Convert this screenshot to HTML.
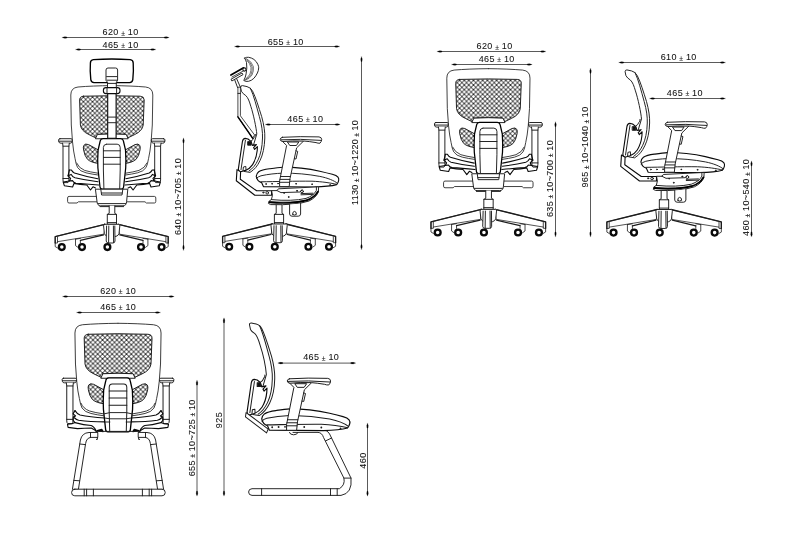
<!DOCTYPE html><html><head><meta charset="utf-8"><title>Chair dimensions</title><style>
html,body{margin:0;padding:0;background:#fff}
svg{display:block;will-change:transform}
path,rect,circle,line{fill:none;stroke:#1c1c1c;stroke-width:.95;stroke-linejoin:round;stroke-linecap:round}
.w{fill:#fff}
.m{fill:url(#mesh)}
.hv{stroke-width:1.35;stroke:#000}
.t{stroke-width:.85;stroke:#222}
.b{stroke-width:1.25;stroke:#000}
.b2{stroke-width:1.1;stroke:#0a0a0a}
.c{fill:#fff;stroke:#0a0a0a;stroke-width:2.3}
.d{stroke:#5a5a5a;stroke-width:1;stroke-linecap:butt}
.a{fill:#000;stroke:#000;stroke-width:.3}
text{font-family:"Liberation Sans",Arial,sans-serif;font-size:9px;letter-spacing:.42px;word-spacing:-.5px;fill:#111;stroke:#111;stroke-width:.06px;text-anchor:middle}
</style></head><body>
<svg width="810" height="548" viewBox="0 0 810 548">
<defs><pattern id="mesh" width="4.56" height="4.56" patternUnits="userSpaceOnUse" patternTransform="translate(3.6,1.4)"><rect width="4.56" height="4.56" style="fill:#fff;stroke:none"/><path d="M2.28 0 L0 2.28 L2.28 4.56 L4.56 2.28 Z" style="stroke:#111;stroke-width:.86;stroke-linecap:butt;stroke-linejoin:miter;fill:none"/><path d="M1.54 0.00 L2.28 -0.74 L3.02 0.00 L2.28 0.74 Z M-0.74 2.28 L0.00 1.54 L0.74 2.28 L0.00 3.02 Z M3.82 2.28 L4.56 1.54 L5.30 2.28 L4.56 3.02 Z M1.54 4.56 L2.28 3.82 L3.02 4.56 L2.28 5.30 Z " style="fill:#000;stroke:none"/></pattern>
</defs>
<rect x="0" y="0" width="810" height="548" style="fill:#fff;stroke:none"/>
<g><g><path class="m" d="M83.4 96.2 Q111.8 95.2 140.2 96.2 Q144.2 96.4 144.2 100 L143.2 125 Q142.4 131 134.6 134.6 L127.6 138 L125.6 134.3 Q111.8 133.4 98 134.3 L96 138 L89 134.6 Q81.2 131 80.4 125 L79.6 100 Q79.6 96.4 83.4 96.2 Z"/><g>
<path class="t" d="M111.8 85.6 Q92 85.8 78 87 Q70.8 87.8 70.8 95 L71.3 125 L72.5 141.7 Q73.5 152 75 158.3 Q76 164.6 77.6 167.6 Q80 171.4 86 172.8 Q92 174.2 98 175"/>
<path class="t" d="M76.6 163 Q78.6 168 84.6 170.4 Q90 172 98 173.2"/>
<path class="m" d="M98.4 150 L88.6 144.6 Q85.2 143.2 83.8 145.4 Q83 147 83.6 150 Q84.6 156 87.4 159.2 Q91 162.6 98.4 163.4 Z"/>
</g><g transform="translate(223.6,0) scale(-1,1)">
<path class="t" d="M111.8 85.6 Q92 85.8 78 87 Q70.8 87.8 70.8 95 L71.3 125 L72.5 141.7 Q73.5 152 75 158.3 Q76 164.6 77.6 167.6 Q80 171.4 86 172.8 Q92 174.2 98 175"/>
<path class="t" d="M76.6 163 Q78.6 168 84.6 170.4 Q90 172 98 173.2"/>
<path class="m" d="M98.4 150 L88.6 144.6 Q85.2 143.2 83.8 145.4 Q83 147 83.6 150 Q84.6 156 87.4 159.2 Q91 162.6 98.4 163.4 Z"/>
</g>
<!-- bracket above lumbar -->
<path class="w" d="M95.6 138.4 L97.4 134.4 Q111.8 133.4 126.2 134.4 L128 138.4 Z"/>
<g><!-- arm pad -->
<path class="w" d="M60 138.7 L71 138.7 Q72.3 138.7 72.3 140 L72 142 Q71.6 143.2 70 143.2 L61 143.2 Q59.2 143.2 58.9 142 L58.6 140 Q58.6 138.7 60 138.7 Z"/>
<path d="M59 141.2 L72 141.2"/>
<path class="w" d="M62.6 143.2 L63 146.2 L63 180 Q63 182 64 182.6 L68 182.6 Q68.9 182 68.9 180 L68.9 146.2 L69.3 143.2"/>
<path d="M63 146.2 L68.9 146.2 M63 178.5 L68.9 178.5"/>
</g><g transform="translate(223.6,0) scale(-1,1)"><!-- arm pad -->
<path class="w" d="M60 138.7 L71 138.7 Q72.3 138.7 72.3 140 L72 142 Q71.6 143.2 70 143.2 L61 143.2 Q59.2 143.2 58.9 142 L58.6 140 Q58.6 138.7 60 138.7 Z"/>
<path d="M59 141.2 L72 141.2"/>
<path class="w" d="M62.6 143.2 L63 146.2 L63 180 Q63 182 64 182.6 L68 182.6 Q68.9 182 68.9 180 L68.9 146.2 L69.3 143.2"/>
<path d="M63 146.2 L68.9 146.2 M63 178.5 L68.9 178.5"/>
</g><g><!-- seat -->
<path class="b2" d="M69.4 170 L71.4 170 Q72.4 172 74.4 173 Q85 176.4 97.8 178.7"/>
<path class="b2" d="M69.4 170 L68 175.8 L71.2 174.4 Q72.6 177 75 177.8 Q85 180.2 98 181.8"/>
<path class="b2" d="M68 175.8 L70.6 178.4 L69.4 181 L72.4 180.6 Q73.4 182.8 76 183.2 Q85 183.8 98.6 185"/>
<path class="b2" d="M69.4 181 L63.2 182 L64.4 185.8 L72.6 187 L74 183.4 Q80 184.6 86.8 185 L90.5 190 L93 186.8 L95.5 188"/>
</g><g transform="translate(223.6,0) scale(-1,1)"><!-- seat -->
<path class="b2" d="M69.4 170 L71.4 170 Q72.4 172 74.4 173 Q85 176.4 97.8 178.7"/>
<path class="b2" d="M69.4 170 L68 175.8 L71.2 174.4 Q72.6 177 75 177.8 Q85 180.2 98 181.8"/>
<path class="b2" d="M68 175.8 L70.6 178.4 L69.4 181 L72.4 180.6 Q73.4 182.8 76 183.2 Q85 183.8 98.6 185"/>
<path class="b2" d="M69.4 181 L63.2 182 L64.4 185.8 L72.6 187 L74 183.4 Q80 184.6 86.8 185 L90.5 190 L93 186.8 L95.5 188"/>
</g><!-- lumbar -->
<path class="w b" d="M103 138.6 L120.6 138.6 Q123 138.8 123.4 141 L125.5 150 L125.9 160 L125.7 168 L123.6 187 Q123.4 189 121.4 189 L102.2 189 Q100.2 189 100 187 L97.9 168 L97.7 160 L98.1 150 L100.2 141 Q100.6 138.8 103 138.6 Z"/>
<path d="M106.4 144.2 L117.2 144.2 Q120.2 144.4 120.2 147.4 L120.2 170 L119.7 188.6 M103.9 188.6 L103.4 170 L103.4 147.4 Q103.4 144.4 106.4 144.2"/>
<path d="M103.4 150.8 L120.2 150.8 M103.4 157.4 L120.2 157.4 M103.4 164.2 L120.2 164.2 "/>
</g>
<path class="w b2" d="M107.7 93 L107.7 138.2 L116.1 138.2 L116.1 93 Z"/>
<path d="M107.7 117.1 L116.1 117.1 M107.7 122.7 L116.1 122.7"/>
<path class="w hv" d="M93.4 59.6 Q111.8 58.4 130.2 59.6 Q133.2 60 133.2 63 Q133.8 71 132.8 79.6 Q132.4 82.4 129.6 82.6 L94 82.6 Q91.2 82.4 90.8 79.6 Q89.8 71 90.4 63 Q90.4 60 93.4 59.6 Z"/>
<path class="w" d="M106 80 L106 70 Q106 68 108 68 L115.6 68 Q117.6 68 117.6 70 L117.6 80 L116.3 82.6 L116.3 88 L107.5 88 L107.5 82.6 Z"/>
<path d="M106.6 76.6 L117 76.6 M107 80.2 L116.8 80.2 M107.5 83.4 L116.3 83.4"/>
<rect class="w b2" x="103.4" y="87.6" width="16.6" height="6" rx="2.6"/>
<path d="M107 87.6 L107 93.6 M116.6 87.6 L116.6 93.6"/>
<g><path class="w t" d="M97.6 196.4 L69 196.4 Q67.6 196.4 67.6 198 L67.6 201.4 Q67.6 203 69 203 L77 203 L78.4 201.8 L97.6 201.8 Z"/><path class="w t" d="M126 196.4 L154.4 196.4 Q155.8 196.4 155.8 198 L155.8 201.4 Q155.8 203 154.4 203 L146.4 203 L145 201.8 L126 201.8 Z"/><path class="w" d="M95.8 189.2 L127.8 189.2 L126.6 201.6 Q126.4 205.8 123 205.8 L100.6 205.8 Q97.2 205.8 97 201.6 Z"/><path d="M100.8 189.2 L101.6 195 L122 195 L122.8 189.2 M101.4 193 L122.2 193 M98 203.6 L125.6 203.6"/><path d="M100 206.6 L123.6 206.6"/><path class="w" d="M109.2 205.8 L109.2 213.4 L107.3 214.4 L107.3 224.3 L116.5 224.3 L116.5 214.4 L114.8 213.4 L114.8 205.8"/><path d="M107.3 214.4 L116.5 214.4 M107.3 222.6 L116.5 222.6"/><g>
<path class="w" d="M104.9 224.3 L55.2 236.6 L55.2 243 L57.5 243 L57.5 241.7 L103.6 234.2 Z" style="stroke-width:.75"/>
<path d="M104.9 224.3 L55.2 236.6 L55.2 243" style="stroke-width:1.3"/>
<path d="M57.5 237 L57.5 241.7 M55.2 243 L55.2 246.6 L57.6 248" style="stroke-width:.8"/>
<path d="M75.5 239.2 L75.5 245.6 L78 247.4 M80.4 240.4 L80.4 243 M75.5 239.2 L80.4 238.4" style="stroke-width:.8"/>
<path d="M80.4 240.4 L103.6 234.8" style="stroke-width:1.25"/>
</g><g transform="translate(223.4,0) scale(-1,1)">
<path class="w" d="M104.9 224.3 L55.2 236.6 L55.2 243 L57.5 243 L57.5 241.7 L103.6 234.2 Z" style="stroke-width:.75"/>
<path d="M104.9 224.3 L55.2 236.6 L55.2 243" style="stroke-width:1.3"/>
<path d="M57.5 237 L57.5 241.7 M55.2 243 L55.2 246.6 L57.6 248" style="stroke-width:.8"/>
<path d="M75.5 239.2 L75.5 245.6 L78 247.4 M80.4 240.4 L80.4 243 M75.5 239.2 L80.4 238.4" style="stroke-width:.8"/>
<path d="M80.4 240.4 L103.6 234.8" style="stroke-width:1.25"/>
</g><path class="w" d="M104.4 224.3 L119 224.3 Q120 224.6 119.8 226 L119 233.6 Q118.4 235.6 116 236.4 L107.4 236.4 Q105 235.6 104.4 233.6 L103.6 226 Q103.4 224.6 104.4 224.3 Z"/><path class="w" d="M106.6 226 L106.2 241 Q106.4 243 108.4 243 L113 243 Q114.8 243 115 241 L114.8 226"/><path d="M108.8 226 L108.6 242.6 M113.4 226 L113.6 242.6"/><circle class="c" cx="61.8" cy="247.1" r="2.9"/><circle class="c" cx="82" cy="247.1" r="2.9"/><circle class="c" cx="107.4" cy="247.1" r="2.9"/><circle class="c" cx="141" cy="247.1" r="2.9"/><circle class="c" cx="161.6" cy="247.1" r="2.9"/></g></g>
<line class="d" x1="63.5" y1="37.5" x2="167.7" y2="37.5"/><path class="a" d="M62.5 37.5 Q64.1 36.25 66.9 37.0 L66.9 38.0 Q64.1 38.75 62.5 37.5 Z"/><path class="a" d="M168.7 37.5 Q167.1 36.25 164.29999999999998 37.0 L164.29999999999998 38.0 Q167.1 38.75 168.7 37.5 Z"/><text x="120.60000000000001" y="35.099999999999994"><tspan>620 </tspan><tspan font-size="6.8" dy=".4">±</tspan><tspan dy="-.4"> 10</tspan></text>
<line class="d" x1="77" y1="49.5" x2="154.3" y2="49.5"/><path class="a" d="M76 49.5 Q77.6 48.25 80.4 49.0 L80.4 50.0 Q77.6 50.75 76 49.5 Z"/><path class="a" d="M155.3 49.5 Q153.70000000000002 48.25 150.9 49.0 L150.9 50.0 Q153.70000000000002 50.75 155.3 49.5 Z"/><text x="120.60000000000001" y="47.5"><tspan>465 </tspan><tspan font-size="6.8" dy=".4">±</tspan><tspan dy="-.4"> 10</tspan></text>
<line class="d" x1="183.5" y1="139.4" x2="183.5" y2="249"/><path class="a" d="M183.5 138.4 Q182.25 140.0 183.0 142.8 L184.0 142.8 Q184.75 140.0 183.5 138.4 Z"/><path class="a" d="M183.5 250 Q182.25 248.4 183.0 245.6 L184.0 245.6 Q184.75 248.4 183.5 250 Z"/><text transform="translate(181,196.5) rotate(-90)" style="letter-spacing:0.37px"><tspan>640 </tspan><tspan font-size="6.8" dy=".4">±</tspan><tspan dy="-.4"> 10~705 </tspan><tspan font-size="6.8" dy=".4">±</tspan><tspan dy="-.4"> 10</tspan></text>
<g><g><path class="w" d="M276.2 203.8 L276.2 213.4 L274.4 214.4 L274.4 224.3 L283.6 224.3 L283.6 214.4 L282 213.4 L282 204.8"/><path d="M274.4 214.4 L283.6 214.4 M274.4 222.6 L283.6 222.6"/><g transform="translate(167.4,-0.3)"><g>
<path class="w" d="M104.9 224.3 L55.2 236.6 L55.2 243 L57.5 243 L57.5 241.7 L103.6 234.2 Z" style="stroke-width:.75"/>
<path d="M104.9 224.3 L55.2 236.6 L55.2 243" style="stroke-width:1.3"/>
<path d="M57.5 237 L57.5 241.7 M55.2 243 L55.2 246.6 L57.6 248" style="stroke-width:.8"/>
<path d="M75.5 239.2 L75.5 245.6 L78 247.4 M80.4 240.4 L80.4 243 M75.5 239.2 L80.4 238.4" style="stroke-width:.8"/>
<path d="M80.4 240.4 L103.6 234.8" style="stroke-width:1.25"/>
</g><g transform="translate(223.4,0) scale(-1,1)">
<path class="w" d="M104.9 224.3 L55.2 236.6 L55.2 243 L57.5 243 L57.5 241.7 L103.6 234.2 Z" style="stroke-width:.75"/>
<path d="M104.9 224.3 L55.2 236.6 L55.2 243" style="stroke-width:1.3"/>
<path d="M57.5 237 L57.5 241.7 M55.2 243 L55.2 246.6 L57.6 248" style="stroke-width:.8"/>
<path d="M75.5 239.2 L75.5 245.6 L78 247.4 M80.4 240.4 L80.4 243 M75.5 239.2 L80.4 238.4" style="stroke-width:.8"/>
<path d="M80.4 240.4 L103.6 234.8" style="stroke-width:1.25"/>
</g><path class="w" d="M104.4 224.3 L119 224.3 Q120 224.6 119.8 226 L119 233.6 Q118.4 235.6 116 236.4 L107.4 236.4 Q105 235.6 104.4 233.6 L103.6 226 Q103.4 224.6 104.4 224.3 Z"/><path class="w" d="M106.6 226 L106.2 241 Q106.4 243 108.4 243 L113 243 Q114.8 243 115 241 L114.8 226"/><path d="M108.8 226 L108.6 242.6 M113.4 226 L113.6 242.6"/><circle class="c" cx="61.8" cy="247.1" r="2.9"/><circle class="c" cx="82" cy="247.1" r="2.9"/><circle class="c" cx="107.4" cy="247.1" r="2.9"/><circle class="c" cx="141" cy="247.1" r="2.9"/><circle class="c" cx="161.6" cy="247.1" r="2.9"/></g></g><g>
<!-- back rest -->
<path class="w" d="M240.6 87 Q240.6 85.5 242.4 85.6 L247 86.6 Q250.6 87.4 252.6 91.2 C256 98 258.6 107 261.7 116.7 C264 125 265 132 264.8 138 C264.6 147 262.8 155 260 160.6 C257.4 166 254.6 169.6 250 172.4 L244 171.4 L249 160 L256.8 134 C256.3 128 253.4 114 250.8 106.3 C249.4 101.6 248.2 97.8 245.8 95.6 Q242.8 93.8 241.6 91.6 Z"/>
<path d="M250.4 88.2 C254 96 256.4 106 259.4 116.7 C261.8 125 262.7 132 262.5 138 C262.3 147 260.6 154.6 258 160 C255.6 165 253 168.4 249 171"/>
<!-- lumbar -->
<path class="w b2" d="M245.2 138.4 Q243 138.4 242.4 141.6 L238.4 168.6 Q238.2 171.4 240.4 171.8 L245.4 170.4 Q250 168.6 252.6 164.6 Q256.4 158.6 257.2 150.6 L257.4 146.6 L254.6 149.4 L253.6 147.6 L256.4 144.6 L252.4 145.4 L251 141.4 L248 139 Z"/>
<path d="M245.4 140.4 L241 169.6 M243 170.8 L243.4 167 L245.8 166.4 L246 169.8"/>
<rect x="248" y="141.6" width="3.2" height="3.6" style="fill:#111"/>
<path d="M251.2 141 Q253.6 139.6 254.2 137.4 Q255.6 136.6 255.4 134.4"/>
<!-- L bracket -->
<path class="w b2" d="M237 169.6 L236.3 180.8 L254.8 195.2 L271.6 195.2 L271.6 190.8 L256.6 190.8 L240.3 179.2 L240.6 171.8 Z"/>
<circle cx="263.3" cy="192.6" r=".6"/><circle cx="267.2" cy="192.8" r="1.3"/>

<path class="w b2" d="M256.2 176.4 Q256.6 173.4 258.7 171.8 C262 169.6 266 169.2 270 168.7 C276 167.8 279 167.4 282.4 167.2 C290 167 296 167.6 301.1 168.1 C308 168.8 314 169.8 319.8 171.2 C325 172.4 329 173.4 332.3 174.3 Q336.6 175.4 338 177.2 Q339.2 178.8 338.6 180.8 Q338 183 336.6 184.6 C330 186.4 322 186.8 314 187 L263.4 186.6 L261.6 182.6 Q257.4 181.6 256.2 176.4 Z"/>
<path d="M256.4 178.4 Q258 176.6 261 175.8 C268 174.2 276 173.4 282.4 173.2 C296 173 308 174.2 319.8 176.4 C328 178 334 180.6 337.4 183.2"/>
<path d="M261 181.8 C275 181.6 296 181 312 181.2 C322 181.6 331 183 336.8 184.4"/>
<circle cx="266" cy="184" r=".4"/><circle cx="272" cy="183.8" r=".4"/><circle cx="278" cy="183.6" r=".4"/><circle cx="296" cy="183.8" r=".4"/><circle cx="312" cy="184.2" r=".4"/><circle cx="330" cy="185" r=".4"/>

<path class="w" d="M282.5 141.4 L286.6 145.5 L279.6 181 L279.6 186.6 L289.2 186.6 L290 178.6 L296.6 147.9 L303.6 141 Z"/>
<path d="M280.6 176.5 L290.4 176.5 M280 179.4 L289.9 179.4 M279.6 182.3 L289.6 182.3 M287.8 142 L298.8 142 L296.4 145.5 L290.2 145.5 Z"/>
<path d="M296 150.8 L297.7 151.4 L296 159 L294.4 158.7"/>
<path class="w" d="M282.4 137.3 Q300 136.2 319 136.9 Q321.6 137.2 321.7 139.4 Q321.6 141.6 320 143.2 Q318 143.4 316 142.6 Q309 141.4 303.6 141 Q292 140.6 283 141.5 Q280.3 141.4 280.2 139.4 Q280.3 137.6 282.4 137.3 Z"/>
<path d="M281 139.8 Q300 138.6 321.2 140.4"/>
</g><path class="w" d="M237.9 87.6 L237.9 116.8 L252.6 138.2 L254.6 135 L240.4 115.8 L240.4 87.6 Z" style="stroke-width:.8"/><path d="M237.9 116.8 L252.6 138.2" style="stroke-width:1.5;stroke:#000"/><path d="M237.6 87.6 L234.6 79.6 M240.6 87.6 L236.6 78.6 M237.9 93.4 L240.4 93.4"/><path d="M230.9 75 L243.6 67.8" style="stroke-width:1.7;stroke:#000"/><path d="M232 77 L243.6 70.8" style="stroke-width:.8"/><path class="w" d="M231.4 79 L242 73 L243 74.6 L232.2 80.8 Z"/><circle class="w" cx="244.4" cy="69.5" r="1.6" style="stroke-width:1.1"/><path class="w" d="M244.7 58.1 Q246.6 56.9 248.6 57.3 Q251.6 57.8 253.9 59.4 Q256.6 61.4 257.8 64.3 Q258.8 66.6 258.7 67.8 Q258.6 70.6 257.4 73 Q256 76 253.9 78.3 Q251.6 80.6 248.6 81.3 Q245.6 81.8 243.8 80.5 Q245.6 77 246.1 73.9 Q247.3 68 246.5 62.5 Q245.8 60 244.7 58.1 Z"/><path d="M246.4 58.6 Q252 61.6 253.4 66.6 Q254 70.6 252 75 Q249.6 79 245.2 80.2 M246.8 59.6 Q251 62.4 252.2 67 Q252.6 70.6 251 74.6 Q249 78 245.6 79.4 M247.2 60.8 Q250 63.4 251 67.4 Q251.2 70.6 250 74 Q248.4 77 246 78.6" style="stroke-width:.6"/><g><path class="w" d="M272 190.6 L277 190.6 L278.4 188.8 L315 187 L318.6 186.8 L318.4 192 Q316 197.6 309 201 Q296 205.4 270.6 204.6 L268.4 203.4 L269.2 201 L271.4 199.6 L272.4 195.6 Z"/><path d="M271.4 199.6 Q292 201.6 306 198.4 Q314 195.6 316.4 190.4 L316.4 187 M269.2 201.6 Q292 203.6 308 199.8 M277 190.6 L281 192.6 L300 192 L302 190 M301 193.6 L313 193.2 M301 194.8 L313 194.4"/><path d="M269.6 202.4 Q292 204.2 306.4 200.4 Q314.6 197.6 317.8 191.6" style="stroke-width:1.7;stroke:#000"/><circle cx="302" cy="191.4" r="1.4"/><circle cx="297" cy="190.8" r=".5" style="fill:#111"/><circle cx="288.6" cy="197" r=".4" style="fill:#111"/><circle cx="284" cy="193" r=".35"/><path class="w" d="M289.6 204.6 L289.6 214 Q289.8 216.2 292 216.2 L298.2 216.2 Q300.4 216.2 300.6 214 L300.6 203.4"/><path d="M292.6 214.4 Q292.4 211.6 294.4 211.4 Q296.6 211.6 296.4 214.4 Q294.4 215.8 292.6 214.4"/></g></g>
<line class="d" x1="236" y1="46.5" x2="338.2" y2="46.5"/><path class="a" d="M235 46.5 Q236.6 45.25 239.4 46.0 L239.4 47.0 Q236.6 47.75 235 46.5 Z"/><path class="a" d="M339.2 46.5 Q337.59999999999997 45.25 334.8 46.0 L334.8 47.0 Q337.59999999999997 47.75 339.2 46.5 Z"/><text x="285.7" y="44.5"><tspan>655 </tspan><tspan font-size="6.8" dy=".4">±</tspan><tspan dy="-.4"> 10</tspan></text>
<line class="d" x1="266.8" y1="124.5" x2="338.7" y2="124.5"/><path class="a" d="M265.8 124.5 Q267.40000000000003 123.25 270.2 124.0 L270.2 125.0 Q267.40000000000003 125.75 265.8 124.5 Z"/><path class="a" d="M339.7 124.5 Q338.09999999999997 123.25 335.3 124.0 L335.3 125.0 Q338.09999999999997 125.75 339.7 124.5 Z"/><text x="305.4" y="121.7"><tspan>465 </tspan><tspan font-size="6.8" dy=".4">±</tspan><tspan dy="-.4"> 10</tspan></text>
<line class="d" x1="361.5" y1="58" x2="361.5" y2="248.2"/><path class="a" d="M361.5 57 Q360.25 58.6 361.0 61.4 L362.0 61.4 Q362.75 58.6 361.5 57 Z"/><path class="a" d="M361.5 249.2 Q360.25 247.6 361.0 244.79999999999998 L362.0 244.79999999999998 Q362.75 247.6 361.5 249.2 Z"/><text transform="translate(358.4,162.5) rotate(-90)" style="letter-spacing:0.25px"><tspan>1130 </tspan><tspan font-size="6.8" dy=".4">±</tspan><tspan dy="-.4"> 10~1220 </tspan><tspan font-size="6.8" dy=".4">±</tspan><tspan dy="-.4"> 10</tspan></text>
<g transform="translate(374.98,-18.18) scale(1.0145)"><g><path class="m" d="M83.4 96.2 Q111.8 95.2 140.2 96.2 Q144.2 96.4 144.2 100 L143.2 125 Q142.4 131 134.6 134.6 L127.6 138 L125.6 134.3 Q111.8 133.4 98 134.3 L96 138 L89 134.6 Q81.2 131 80.4 125 L79.6 100 Q79.6 96.4 83.4 96.2 Z"/><g>
<path class="t" d="M111.8 85.6 Q92 85.8 78 87 Q70.8 87.8 70.8 95 L71.3 125 L72.5 141.7 Q73.5 152 75 158.3 Q76 164.6 77.6 167.6 Q80 171.4 86 172.8 Q92 174.2 98 175"/>
<path class="t" d="M76.6 163 Q78.6 168 84.6 170.4 Q90 172 98 173.2"/>
<path class="m" d="M98.4 150 L88.6 144.6 Q85.2 143.2 83.8 145.4 Q83 147 83.6 150 Q84.6 156 87.4 159.2 Q91 162.6 98.4 163.4 Z"/>
</g><g transform="translate(223.6,0) scale(-1,1)">
<path class="t" d="M111.8 85.6 Q92 85.8 78 87 Q70.8 87.8 70.8 95 L71.3 125 L72.5 141.7 Q73.5 152 75 158.3 Q76 164.6 77.6 167.6 Q80 171.4 86 172.8 Q92 174.2 98 175"/>
<path class="t" d="M76.6 163 Q78.6 168 84.6 170.4 Q90 172 98 173.2"/>
<path class="m" d="M98.4 150 L88.6 144.6 Q85.2 143.2 83.8 145.4 Q83 147 83.6 150 Q84.6 156 87.4 159.2 Q91 162.6 98.4 163.4 Z"/>
</g>
<!-- bracket above lumbar -->
<path class="w" d="M95.6 138.4 L97.4 134.4 Q111.8 133.4 126.2 134.4 L128 138.4 Z"/>
<g><!-- arm pad -->
<path class="w" d="M60 138.7 L71 138.7 Q72.3 138.7 72.3 140 L72 142 Q71.6 143.2 70 143.2 L61 143.2 Q59.2 143.2 58.9 142 L58.6 140 Q58.6 138.7 60 138.7 Z"/>
<path d="M59 141.2 L72 141.2"/>
<path class="w" d="M62.6 143.2 L63 146.2 L63 180 Q63 182 64 182.6 L68 182.6 Q68.9 182 68.9 180 L68.9 146.2 L69.3 143.2"/>
<path d="M63 146.2 L68.9 146.2 M63 178.5 L68.9 178.5"/>
</g><g transform="translate(223.6,0) scale(-1,1)"><!-- arm pad -->
<path class="w" d="M60 138.7 L71 138.7 Q72.3 138.7 72.3 140 L72 142 Q71.6 143.2 70 143.2 L61 143.2 Q59.2 143.2 58.9 142 L58.6 140 Q58.6 138.7 60 138.7 Z"/>
<path d="M59 141.2 L72 141.2"/>
<path class="w" d="M62.6 143.2 L63 146.2 L63 180 Q63 182 64 182.6 L68 182.6 Q68.9 182 68.9 180 L68.9 146.2 L69.3 143.2"/>
<path d="M63 146.2 L68.9 146.2 M63 178.5 L68.9 178.5"/>
</g><g><!-- seat -->
<path class="b2" d="M69.4 170 L71.4 170 Q72.4 172 74.4 173 Q85 176.4 97.8 178.7"/>
<path class="b2" d="M69.4 170 L68 175.8 L71.2 174.4 Q72.6 177 75 177.8 Q85 180.2 98 181.8"/>
<path class="b2" d="M68 175.8 L70.6 178.4 L69.4 181 L72.4 180.6 Q73.4 182.8 76 183.2 Q85 183.8 98.6 185"/>
<path class="b2" d="M69.4 181 L63.2 182 L64.4 185.8 L72.6 187 L74 183.4 Q80 184.6 86.8 185 L90.5 190 L93 186.8 L95.5 188"/>
</g><g transform="translate(223.6,0) scale(-1,1)"><!-- seat -->
<path class="b2" d="M69.4 170 L71.4 170 Q72.4 172 74.4 173 Q85 176.4 97.8 178.7"/>
<path class="b2" d="M69.4 170 L68 175.8 L71.2 174.4 Q72.6 177 75 177.8 Q85 180.2 98 181.8"/>
<path class="b2" d="M68 175.8 L70.6 178.4 L69.4 181 L72.4 180.6 Q73.4 182.8 76 183.2 Q85 183.8 98.6 185"/>
<path class="b2" d="M69.4 181 L63.2 182 L64.4 185.8 L72.6 187 L74 183.4 Q80 184.6 86.8 185 L90.5 190 L93 186.8 L95.5 188"/>
</g><!-- lumbar -->
<path class="w b" d="M103 138.6 L120.6 138.6 Q123 138.8 123.4 141 L125.5 150 L125.9 160 L125.7 168 L123.6 187 Q123.4 189 121.4 189 L102.2 189 Q100.2 189 100 187 L97.9 168 L97.7 160 L98.1 150 L100.2 141 Q100.6 138.8 103 138.6 Z"/>
<path d="M106.4 144.2 L117.2 144.2 Q120.2 144.4 120.2 147.4 L120.2 170 L119.7 188.6 M103.9 188.6 L103.4 170 L103.4 147.4 Q103.4 144.4 106.4 144.2"/>
<path d="M103.4 150.8 L120.2 150.8 M103.4 157.4 L120.2 157.4 M103.4 164.2 L120.2 164.2 "/>
</g><g><path class="w t" d="M97.6 196.4 L69 196.4 Q67.6 196.4 67.6 198 L67.6 201.4 Q67.6 203 69 203 L77 203 L78.4 201.8 L97.6 201.8 Z"/><path class="w t" d="M126 196.4 L154.4 196.4 Q155.8 196.4 155.8 198 L155.8 201.4 Q155.8 203 154.4 203 L146.4 203 L145 201.8 L126 201.8 Z"/><path class="w" d="M95.8 189.2 L127.8 189.2 L126.6 201.6 Q126.4 205.8 123 205.8 L100.6 205.8 Q97.2 205.8 97 201.6 Z"/><path d="M100.8 189.2 L101.6 195 L122 195 L122.8 189.2 M101.4 193 L122.2 193 M98 203.6 L125.6 203.6"/><path d="M100 206.6 L123.6 206.6"/><path class="w" d="M109.2 205.8 L109.2 213.4 L107.3 214.4 L107.3 224.3 L116.5 224.3 L116.5 214.4 L114.8 213.4 L114.8 205.8"/><path d="M107.3 214.4 L116.5 214.4 M107.3 222.6 L116.5 222.6"/><g>
<path class="w" d="M104.9 224.3 L55.2 236.6 L55.2 243 L57.5 243 L57.5 241.7 L103.6 234.2 Z" style="stroke-width:.75"/>
<path d="M104.9 224.3 L55.2 236.6 L55.2 243" style="stroke-width:1.3"/>
<path d="M57.5 237 L57.5 241.7 M55.2 243 L55.2 246.6 L57.6 248" style="stroke-width:.8"/>
<path d="M75.5 239.2 L75.5 245.6 L78 247.4 M80.4 240.4 L80.4 243 M75.5 239.2 L80.4 238.4" style="stroke-width:.8"/>
<path d="M80.4 240.4 L103.6 234.8" style="stroke-width:1.25"/>
</g><g transform="translate(223.4,0) scale(-1,1)">
<path class="w" d="M104.9 224.3 L55.2 236.6 L55.2 243 L57.5 243 L57.5 241.7 L103.6 234.2 Z" style="stroke-width:.75"/>
<path d="M104.9 224.3 L55.2 236.6 L55.2 243" style="stroke-width:1.3"/>
<path d="M57.5 237 L57.5 241.7 M55.2 243 L55.2 246.6 L57.6 248" style="stroke-width:.8"/>
<path d="M75.5 239.2 L75.5 245.6 L78 247.4 M80.4 240.4 L80.4 243 M75.5 239.2 L80.4 238.4" style="stroke-width:.8"/>
<path d="M80.4 240.4 L103.6 234.8" style="stroke-width:1.25"/>
</g><path class="w" d="M104.4 224.3 L119 224.3 Q120 224.6 119.8 226 L119 233.6 Q118.4 235.6 116 236.4 L107.4 236.4 Q105 235.6 104.4 233.6 L103.6 226 Q103.4 224.6 104.4 224.3 Z"/><path class="w" d="M106.6 226 L106.2 241 Q106.4 243 108.4 243 L113 243 Q114.8 243 115 241 L114.8 226"/><path d="M108.8 226 L108.6 242.6 M113.4 226 L113.6 242.6"/><circle class="c" cx="61.8" cy="247.1" r="2.9"/><circle class="c" cx="82" cy="247.1" r="2.9"/><circle class="c" cx="107.4" cy="247.1" r="2.9"/><circle class="c" cx="141" cy="247.1" r="2.9"/><circle class="c" cx="161.6" cy="247.1" r="2.9"/></g></g>
<line class="d" x1="438.5" y1="51.5" x2="544.3" y2="51.5"/><path class="a" d="M437.5 51.5 Q439.1 50.25 441.9 51.0 L441.9 52.0 Q439.1 52.75 437.5 51.5 Z"/><path class="a" d="M545.3 51.5 Q543.6999999999999 50.25 540.9 51.0 L540.9 52.0 Q543.6999999999999 52.75 545.3 51.5 Z"/><text x="494.59999999999997" y="49.099999999999994"><tspan>620 </tspan><tspan font-size="6.8" dy=".4">±</tspan><tspan dy="-.4"> 10</tspan></text>
<line class="d" x1="453" y1="64.5" x2="530.7" y2="64.5"/><path class="a" d="M452 64.5 Q453.6 63.25 456.4 64.0 L456.4 65.0 Q453.6 65.75 452 64.5 Z"/><path class="a" d="M531.7 64.5 Q530.1 63.25 527.3000000000001 64.0 L527.3000000000001 65.0 Q530.1 65.75 531.7 64.5 Z"/><text x="496.7" y="62.0"><tspan>465 </tspan><tspan font-size="6.8" dy=".4">±</tspan><tspan dy="-.4"> 10</tspan></text>
<line class="d" x1="555.5" y1="123.2" x2="555.5" y2="235.4"/><path class="a" d="M555.5 122.2 Q554.25 123.8 555.0 126.60000000000001 L556.0 126.60000000000001 Q556.75 123.8 555.5 122.2 Z"/><path class="a" d="M555.5 236.4 Q554.25 234.8 555.0 232.0 L556.0 232.0 Q556.75 234.8 555.5 236.4 Z"/><text transform="translate(552.7,178.5) rotate(-90)" style="letter-spacing:0.37px"><tspan>635 </tspan><tspan font-size="6.8" dy=".4">±</tspan><tspan dy="-.4"> 10~700 </tspan><tspan font-size="6.8" dy=".4">±</tspan><tspan dy="-.4"> 10</tspan></text>
<line class="d" x1="590.5" y1="69.8" x2="590.5" y2="235.4"/><path class="a" d="M590.5 68.8 Q589.25 70.39999999999999 590.0 73.2 L591.0 73.2 Q591.75 70.39999999999999 590.5 68.8 Z"/><path class="a" d="M590.5 236.4 Q589.25 234.8 590.0 232.0 L591.0 232.0 Q591.75 234.8 590.5 236.4 Z"/><text transform="translate(588.2,147) rotate(-90)" style="letter-spacing:0.28px"><tspan>965 </tspan><tspan font-size="6.8" dy=".4">±</tspan><tspan dy="-.4"> 10~1040 </tspan><tspan font-size="6.8" dy=".4">±</tspan><tspan dy="-.4"> 10</tspan></text>
<g transform="translate(381.37,-17.4) scale(1.013)"><g><path class="w" d="M276.2 203.8 L276.2 213.4 L274.4 214.4 L274.4 224.3 L283.6 224.3 L283.6 214.4 L282 213.4 L282 204.8"/><path d="M274.4 214.4 L283.6 214.4 M274.4 222.6 L283.6 222.6"/><g transform="translate(167.4,-0.3)"><g>
<path class="w" d="M104.9 224.3 L55.2 236.6 L55.2 243 L57.5 243 L57.5 241.7 L103.6 234.2 Z" style="stroke-width:.75"/>
<path d="M104.9 224.3 L55.2 236.6 L55.2 243" style="stroke-width:1.3"/>
<path d="M57.5 237 L57.5 241.7 M55.2 243 L55.2 246.6 L57.6 248" style="stroke-width:.8"/>
<path d="M75.5 239.2 L75.5 245.6 L78 247.4 M80.4 240.4 L80.4 243 M75.5 239.2 L80.4 238.4" style="stroke-width:.8"/>
<path d="M80.4 240.4 L103.6 234.8" style="stroke-width:1.25"/>
</g><g transform="translate(223.4,0) scale(-1,1)">
<path class="w" d="M104.9 224.3 L55.2 236.6 L55.2 243 L57.5 243 L57.5 241.7 L103.6 234.2 Z" style="stroke-width:.75"/>
<path d="M104.9 224.3 L55.2 236.6 L55.2 243" style="stroke-width:1.3"/>
<path d="M57.5 237 L57.5 241.7 M55.2 243 L55.2 246.6 L57.6 248" style="stroke-width:.8"/>
<path d="M75.5 239.2 L75.5 245.6 L78 247.4 M80.4 240.4 L80.4 243 M75.5 239.2 L80.4 238.4" style="stroke-width:.8"/>
<path d="M80.4 240.4 L103.6 234.8" style="stroke-width:1.25"/>
</g><path class="w" d="M104.4 224.3 L119 224.3 Q120 224.6 119.8 226 L119 233.6 Q118.4 235.6 116 236.4 L107.4 236.4 Q105 235.6 104.4 233.6 L103.6 226 Q103.4 224.6 104.4 224.3 Z"/><path class="w" d="M106.6 226 L106.2 241 Q106.4 243 108.4 243 L113 243 Q114.8 243 115 241 L114.8 226"/><path d="M108.8 226 L108.6 242.6 M113.4 226 L113.6 242.6"/><circle class="c" cx="61.8" cy="247.1" r="2.9"/><circle class="c" cx="82" cy="247.1" r="2.9"/><circle class="c" cx="107.4" cy="247.1" r="2.9"/><circle class="c" cx="141" cy="247.1" r="2.9"/><circle class="c" cx="161.6" cy="247.1" r="2.9"/></g></g></g><g transform="translate(381.37,-16.8) scale(1.013)"><g>
<!-- back rest -->
<path class="w" d="M240.6 87 Q240.6 85.5 242.4 85.6 L247 86.6 Q250.6 87.4 252.6 91.2 C256 98 258.6 107 261.7 116.7 C264 125 265 132 264.8 138 C264.6 147 262.8 155 260 160.6 C257.4 166 254.6 169.6 250 172.4 L244 171.4 L249 160 L256.8 134 C256.3 128 253.4 114 250.8 106.3 C249.4 101.6 248.2 97.8 245.8 95.6 Q242.8 93.8 241.6 91.6 Z"/>
<path d="M250.4 88.2 C254 96 256.4 106 259.4 116.7 C261.8 125 262.7 132 262.5 138 C262.3 147 260.6 154.6 258 160 C255.6 165 253 168.4 249 171"/>
<!-- lumbar -->
<path class="w b2" d="M245.2 138.4 Q243 138.4 242.4 141.6 L238.4 168.6 Q238.2 171.4 240.4 171.8 L245.4 170.4 Q250 168.6 252.6 164.6 Q256.4 158.6 257.2 150.6 L257.4 146.6 L254.6 149.4 L253.6 147.6 L256.4 144.6 L252.4 145.4 L251 141.4 L248 139 Z"/>
<path d="M245.4 140.4 L241 169.6 M243 170.8 L243.4 167 L245.8 166.4 L246 169.8"/>
<rect x="248" y="141.6" width="3.2" height="3.6" style="fill:#111"/>
<path d="M251.2 141 Q253.6 139.6 254.2 137.4 Q255.6 136.6 255.4 134.4"/>
<!-- L bracket -->
<path class="w b2" d="M237 169.6 L236.3 180.8 L254.8 195.2 L271.6 195.2 L271.6 190.8 L256.6 190.8 L240.3 179.2 L240.6 171.8 Z"/>
<circle cx="263.3" cy="192.6" r=".6"/><circle cx="267.2" cy="192.8" r="1.3"/>

<path class="w b2" d="M256.2 176.4 Q256.6 173.4 258.7 171.8 C262 169.6 266 169.2 270 168.7 C276 167.8 279 167.4 282.4 167.2 C290 167 296 167.6 301.1 168.1 C308 168.8 314 169.8 319.8 171.2 C325 172.4 329 173.4 332.3 174.3 Q336.6 175.4 338 177.2 Q339.2 178.8 338.6 180.8 Q338 183 336.6 184.6 C330 186.4 322 186.8 314 187 L263.4 186.6 L261.6 182.6 Q257.4 181.6 256.2 176.4 Z"/>
<path d="M256.4 178.4 Q258 176.6 261 175.8 C268 174.2 276 173.4 282.4 173.2 C296 173 308 174.2 319.8 176.4 C328 178 334 180.6 337.4 183.2"/>
<path d="M261 181.8 C275 181.6 296 181 312 181.2 C322 181.6 331 183 336.8 184.4"/>
<circle cx="266" cy="184" r=".4"/><circle cx="272" cy="183.8" r=".4"/><circle cx="278" cy="183.6" r=".4"/><circle cx="296" cy="183.8" r=".4"/><circle cx="312" cy="184.2" r=".4"/><circle cx="330" cy="185" r=".4"/>

<path class="w" d="M282.5 141.4 L286.6 145.5 L279.6 181 L279.6 186.6 L289.2 186.6 L290 178.6 L296.6 147.9 L303.6 141 Z"/>
<path d="M280.6 176.5 L290.4 176.5 M280 179.4 L289.9 179.4 M279.6 182.3 L289.6 182.3 M287.8 142 L298.8 142 L296.4 145.5 L290.2 145.5 Z"/>
<path d="M296 150.8 L297.7 151.4 L296 159 L294.4 158.7"/>
<path class="w" d="M282.4 137.3 Q300 136.2 319 136.9 Q321.6 137.2 321.7 139.4 Q321.6 141.6 320 143.2 Q318 143.4 316 142.6 Q309 141.4 303.6 141 Q292 140.6 283 141.5 Q280.3 141.4 280.2 139.4 Q280.3 137.6 282.4 137.3 Z"/>
<path d="M281 139.8 Q300 138.6 321.2 140.4"/>
</g><g><path class="w" d="M272 190.6 L277 190.6 L278.4 188.8 L315 187 L318.6 186.8 L318.4 192 Q316 197.6 309 201 Q296 205.4 270.6 204.6 L268.4 203.4 L269.2 201 L271.4 199.6 L272.4 195.6 Z"/><path d="M271.4 199.6 Q292 201.6 306 198.4 Q314 195.6 316.4 190.4 L316.4 187 M269.2 201.6 Q292 203.6 308 199.8 M277 190.6 L281 192.6 L300 192 L302 190 M301 193.6 L313 193.2 M301 194.8 L313 194.4"/><path d="M269.6 202.4 Q292 204.2 306.4 200.4 Q314.6 197.6 317.8 191.6" style="stroke-width:1.7;stroke:#000"/><circle cx="302" cy="191.4" r="1.4"/><circle cx="297" cy="190.8" r=".5" style="fill:#111"/><circle cx="288.6" cy="197" r=".4" style="fill:#111"/><circle cx="284" cy="193" r=".35"/><path class="w" d="M289.6 204.6 L289.6 214 Q289.8 216.2 292 216.2 L298.2 216.2 Q300.4 216.2 300.6 214 L300.6 203.4"/><path d="M292.6 214.4 Q292.4 211.6 294.4 211.4 Q296.6 211.6 296.4 214.4 Q294.4 215.8 292.6 214.4"/></g></g>
<line class="d" x1="620.2" y1="62.5" x2="724" y2="62.5"/><path class="a" d="M619.2 62.5 Q620.8000000000001 61.25 623.6 62.0 L623.6 63.0 Q620.8000000000001 63.75 619.2 62.5 Z"/><path class="a" d="M725 62.5 Q723.4 61.25 720.6 62.0 L720.6 63.0 Q723.4 63.75 725 62.5 Z"/><text x="678.6999999999999" y="60.3"><tspan>610 </tspan><tspan font-size="6.8" dy=".4">±</tspan><tspan dy="-.4"> 10</tspan></text>
<line class="d" x1="651" y1="98.5" x2="724" y2="98.5"/><path class="a" d="M650 98.5 Q651.6 97.25 654.4 98.0 L654.4 99.0 Q651.6 99.75 650 98.5 Z"/><path class="a" d="M725 98.5 Q723.4 97.25 720.6 98.0 L720.6 99.0 Q723.4 99.75 725 98.5 Z"/><text x="684.9" y="95.5"><tspan>465 </tspan><tspan font-size="6.8" dy=".4">±</tspan><tspan dy="-.4"> 10</tspan></text>
<line class="d" x1="751.5" y1="162.4" x2="751.5" y2="235.3"/><path class="a" d="M751.5 161.4 Q750.25 163.0 751.0 165.8 L752.0 165.8 Q752.75 163.0 751.5 161.4 Z"/><path class="a" d="M751.5 236.3 Q750.25 234.70000000000002 751.0 231.9 L752.0 231.9 Q752.75 234.70000000000002 751.5 236.3 Z"/><text transform="translate(749.2,197.4) rotate(-90)" style="letter-spacing:0.37px"><tspan>460 </tspan><tspan font-size="6.8" dy=".4">±</tspan><tspan dy="-.4"> 10~540 </tspan><tspan font-size="6.8" dy=".4">±</tspan><tspan dy="-.4"> 10</tspan></text>
<g transform="translate(0.61,234.79) scale(1.05,1.034)"><g><path class="m" d="M83.4 96.2 Q111.8 95.2 140.2 96.2 Q144.2 96.4 144.2 100 L143.2 125 Q142.4 131 134.6 134.6 L127.6 138 L125.6 134.3 Q111.8 133.4 98 134.3 L96 138 L89 134.6 Q81.2 131 80.4 125 L79.6 100 Q79.6 96.4 83.4 96.2 Z"/><g>
<path class="t" d="M111.8 85.6 Q92 85.8 78 87 Q70.8 87.8 70.8 95 L71.3 125 L72.5 141.7 Q73.5 152 75 158.3 Q76 164.6 77.6 167.6 Q80 171.4 86 172.8 Q92 174.2 98 175"/>
<path class="t" d="M76.6 163 Q78.6 168 84.6 170.4 Q90 172 98 173.2"/>
<path class="m" d="M98.4 150 L88.6 144.6 Q85.2 143.2 83.8 145.4 Q83 147 83.6 150 Q84.6 156 87.4 159.2 Q91 162.6 98.4 163.4 Z"/>
</g><g transform="translate(223.6,0) scale(-1,1)">
<path class="t" d="M111.8 85.6 Q92 85.8 78 87 Q70.8 87.8 70.8 95 L71.3 125 L72.5 141.7 Q73.5 152 75 158.3 Q76 164.6 77.6 167.6 Q80 171.4 86 172.8 Q92 174.2 98 175"/>
<path class="t" d="M76.6 163 Q78.6 168 84.6 170.4 Q90 172 98 173.2"/>
<path class="m" d="M98.4 150 L88.6 144.6 Q85.2 143.2 83.8 145.4 Q83 147 83.6 150 Q84.6 156 87.4 159.2 Q91 162.6 98.4 163.4 Z"/>
</g>
<!-- bracket above lumbar -->
<path class="w" d="M95.6 138.4 L97.4 134.4 Q111.8 133.4 126.2 134.4 L128 138.4 Z"/>
<g><!-- arm pad -->
<path class="w" d="M60 138.7 L71 138.7 Q72.3 138.7 72.3 140 L72 142 Q71.6 143.2 70 143.2 L61 143.2 Q59.2 143.2 58.9 142 L58.6 140 Q58.6 138.7 60 138.7 Z"/>
<path d="M59 141.2 L72 141.2"/>
<path class="w" d="M62.6 143.2 L63 146.2 L63 180 Q63 182 64 182.6 L68 182.6 Q68.9 182 68.9 180 L68.9 146.2 L69.3 143.2"/>
<path d="M63 146.2 L68.9 146.2 M63 178.5 L68.9 178.5"/>
</g><g transform="translate(223.6,0) scale(-1,1)"><!-- arm pad -->
<path class="w" d="M60 138.7 L71 138.7 Q72.3 138.7 72.3 140 L72 142 Q71.6 143.2 70 143.2 L61 143.2 Q59.2 143.2 58.9 142 L58.6 140 Q58.6 138.7 60 138.7 Z"/>
<path d="M59 141.2 L72 141.2"/>
<path class="w" d="M62.6 143.2 L63 146.2 L63 180 Q63 182 64 182.6 L68 182.6 Q68.9 182 68.9 180 L68.9 146.2 L69.3 143.2"/>
<path d="M63 146.2 L68.9 146.2 M63 178.5 L68.9 178.5"/>
</g></g></g><g>
<path class="b2" d="M75 410.6 Q77 413.8 80 415 Q90 417 104.6 418"/>
<path class="b2" d="M75 410.6 L73.1 413.8 L75.6 416 L73.4 417 Q76 419.6 78.7 420.2 Q90 421.8 105 421.9"/>
<path class="b2" d="M73.4 417 L73.1 420.4 L75 422.6 L72 423.8 L67.5 424.3 L68.1 427.4 L77.5 428.6 Q85 428.4 91.2 428 L94.8 430 L97.4 432.4"/>
<path class="b2" d="M75 422.6 Q84 425 91.2 425.5 Q94 426.4 96.2 431"/>
<path class="b2" d="M97.2 430.6 L101.8 429.2 L103.2 431.6 Z" style="fill:#111"/>
</g><g transform="translate(236.0,0) scale(-1,1)">
<path class="b2" d="M75 410.6 Q77 413.8 80 415 Q90 417 104.6 418"/>
<path class="b2" d="M75 410.6 L73.1 413.8 L75.6 416 L73.4 417 Q76 419.6 78.7 420.2 Q90 421.8 105 421.9"/>
<path class="b2" d="M73.4 417 L73.1 420.4 L75 422.6 L72 423.8 L67.5 424.3 L68.1 427.4 L77.5 428.6 Q85 428.4 91.2 428 L94.8 430 L97.4 432.4"/>
<path class="b2" d="M75 422.6 Q84 425 91.2 425.5 Q94 426.4 96.2 431"/>
<path class="b2" d="M97.2 430.6 L101.8 429.2 L103.2 431.6 Z" style="fill:#111"/>
</g><g transform="translate(0.83,229.76) scale(1.048,1.069)"><g><!-- lumbar -->
<path class="w b" d="M103 138.6 L120.6 138.6 Q123 138.8 123.4 141 L125.5 150 L125.9 160 L125.7 168 L123.6 187 Q123.4 189 121.4 189 L102.2 189 Q100.2 189 100 187 L97.9 168 L97.7 160 L98.1 150 L100.2 141 Q100.6 138.8 103 138.6 Z"/>
<path d="M106.4 144.2 L117.2 144.2 Q120.2 144.4 120.2 147.4 L120.2 170 L119.7 188.6 M103.9 188.6 L103.4 170 L103.4 147.4 Q103.4 144.4 106.4 144.2"/>
<path d="M103.4 150.8 L120.2 150.8 M103.4 157.4 L120.2 157.4 M103.4 164.2 L120.2 164.2 "/>
</g></g><path d="M104.4 413.8 L109.9 412.6 L126.1 412.6 L131.6 413.8 M104.8 418 L109.9 418.8 L126.1 418.8 L131.2 418 M105.2 422 L109.9 422 M126.1 422 L130.8 422 M96.2 431.4 L139.8 431.4"/><g>
<path class="w" d="M97.4 432.4 L89 432.5 Q82 432.9 80.4 440 L72.4 489.4 L78.4 489.4 L85.6 443.6 Q86.4 437.8 91 437.4 L97.4 437.4 Z"/>
<path d="M90.5 432.5 L90.5 437.4 M79.8 444 L85.4 444.6 M73.8 480.4 L79.6 480.8"/>
<path d="M97.4 437.4 L97.4 439.4 L96.4 439.4"/>
</g><g transform="translate(236.0,0) scale(-1,1)">
<path class="w" d="M97.4 432.4 L89 432.5 Q82 432.9 80.4 440 L72.4 489.4 L78.4 489.4 L85.6 443.6 Q86.4 437.8 91 437.4 L97.4 437.4 Z"/>
<path d="M90.5 432.5 L90.5 437.4 M79.8 444 L85.4 444.6 M73.8 480.4 L79.6 480.8"/>
<path d="M97.4 437.4 L97.4 439.4 L96.4 439.4"/>
</g><rect class="w" x="71.6" y="489.2" width="93.6" height="6.6" rx="3.2"/><path d="M84.2 489.2 L84.2 495.8 M86.6 489.2 L86.6 495.8 M93.4 489.2 L93.4 495.8 M142.4 489.2 L142.4 495.8 M149.2 489.2 L149.2 495.8 M151.6 489.2 L151.6 495.8"/>
<line class="d" x1="64" y1="296.5" x2="172.7" y2="296.5"/><path class="a" d="M63 296.5 Q64.6 295.25 67.4 296.0 L67.4 297.0 Q64.6 297.75 63 296.5 Z"/><path class="a" d="M173.7 296.5 Q172.1 295.25 169.29999999999998 296.0 L169.29999999999998 297.0 Q172.1 297.75 173.7 296.5 Z"/><text x="118.2" y="293.5"><tspan>620 </tspan><tspan font-size="6.8" dy=".4">±</tspan><tspan dy="-.4"> 10</tspan></text>
<line class="d" x1="78" y1="312.5" x2="159" y2="312.5"/><path class="a" d="M77 312.5 Q78.6 311.25 81.4 312.0 L81.4 313.0 Q78.6 313.75 77 312.5 Z"/><path class="a" d="M160 312.5 Q158.4 311.25 155.6 312.0 L155.6 313.0 Q158.4 313.75 160 312.5 Z"/><text x="118.2" y="309.7"><tspan>465 </tspan><tspan font-size="6.8" dy=".4">±</tspan><tspan dy="-.4"> 10</tspan></text>
<line class="d" x1="197.0" y1="381.7" x2="197.0" y2="494.6"/><path class="a" d="M197.0 380.7 Q195.75 382.3 196.5 385.09999999999997 L197.5 385.09999999999997 Q198.25 382.3 197.0 380.7 Z"/><path class="a" d="M197.0 495.6 Q195.75 494.0 196.5 491.20000000000005 L197.5 491.20000000000005 Q198.25 494.0 197.0 495.6 Z"/><text transform="translate(194.9,437.8) rotate(-90)" style="letter-spacing:0.37px"><tspan>655 </tspan><tspan font-size="6.8" dy=".4">±</tspan><tspan dy="-.4"> 10~725 </tspan><tspan font-size="6.8" dy=".4">±</tspan><tspan dy="-.4"> 10</tspan></text>
<path class="w" d="M293 432.4 L318 432.4 Q322 432.6 323.6 437.6 L343.9 478.1 Q345.4 485 339.4 488.7 L252 488.7 Q248.6 488.9 248.6 492 Q248.6 495.2 252 495.4 L341 495.4 Q352.6 493.4 351 478.1 L329.6 434 Q327 429.4 322 430.4"/><path d="M261.6 488.7 L261.6 495.4 M330.5 488.7 L330.5 495.4 M337.2 488.7 L337.2 495.4 M343.9 478.1 L351 478.1 M325.4 441 L331.6 438 M289.4 432.4 Q290 434.8 293.6 434.8 Q297.4 434.8 298 432.4"/><g transform="translate(-2.0,231.66) scale(1.045,1.067)">
<!-- back rest -->
<path class="w" d="M240.6 87 Q240.6 85.5 242.4 85.6 L247 86.6 Q250.6 87.4 252.6 91.2 C256 98 258.6 107 261.7 116.7 C264 125 265 132 264.8 138 C264.6 147 262.8 155 260 160.6 C257.4 166 254.6 169.6 250 172.4 L244 171.4 L249 160 L256.8 134 C256.3 128 253.4 114 250.8 106.3 C249.4 101.6 248.2 97.8 245.8 95.6 Q242.8 93.8 241.6 91.6 Z"/>
<path d="M250.4 88.2 C254 96 256.4 106 259.4 116.7 C261.8 125 262.7 132 262.5 138 C262.3 147 260.6 154.6 258 160 C255.6 165 253 168.4 249 171"/>
<!-- lumbar -->
<path class="w b2" d="M245.2 138.4 Q243 138.4 242.4 141.6 L238.4 168.6 Q238.2 171.4 240.4 171.8 L245.4 170.4 Q250 168.6 252.6 164.6 Q256.4 158.6 257.2 150.6 L257.4 146.6 L254.6 149.4 L253.6 147.6 L256.4 144.6 L252.4 145.4 L251 141.4 L248 139 Z"/>
<path d="M245.4 140.4 L241 169.6 M243 170.8 L243.4 167 L245.8 166.4 L246 169.8"/>
<rect x="248" y="141.6" width="3.2" height="3.6" style="fill:#111"/>
<path d="M251.2 141 Q253.6 139.6 254.2 137.4 Q255.6 136.6 255.4 134.4"/>
<!-- L bracket -->
<path class="w" d="M237.4 169.6 L236.8 173.6 L257 188.6 L258.6 185 L240.6 171.8 Z"/>
</g><g transform="translate(-11.9,224.9) scale(1.068,1.1)">
<path class="w b2" d="M256.2 176.4 Q256.6 173.4 258.7 171.8 C262 169.6 266 169.2 270 168.7 C276 167.8 279 167.4 282.4 167.2 C290 167 296 167.6 301.1 168.1 C308 168.8 314 169.8 319.8 171.2 C325 172.4 329 173.4 332.3 174.3 Q336.6 175.4 338 177.2 Q339.2 178.8 338.6 180.8 Q338 183 336.6 184.6 C330 186.4 322 186.8 314 187 L263.4 186.6 L261.6 182.6 Q257.4 181.6 256.2 176.4 Z"/>
<path d="M256.4 178.4 Q258 176.6 261 175.8 C268 174.2 276 173.4 282.4 173.2 C296 173 308 174.2 319.8 176.4 C328 178 334 180.6 337.4 183.2"/>
<path d="M261 181.8 C275 181.6 296 181 312 181.2 C322 181.6 331 183 336.8 184.4"/>
<circle cx="266" cy="184" r=".4"/><circle cx="272" cy="183.8" r=".4"/><circle cx="278" cy="183.6" r=".4"/><circle cx="296" cy="183.8" r=".4"/><circle cx="312" cy="184.2" r=".4"/><circle cx="330" cy="185" r=".4"/>
</g><g transform="translate(-5.6,235.3) scale(1.045)">
<path class="w" d="M282.5 141.4 L286.6 145.5 L279.6 181 L279.6 186.6 L289.2 186.6 L290 178.6 L296.6 147.9 L303.6 141 Z"/>
<path d="M280.6 176.5 L290.4 176.5 M280 179.4 L289.9 179.4 M279.6 182.3 L289.6 182.3 M287.8 142 L298.8 142 L296.4 145.5 L290.2 145.5 Z"/>
<path d="M296 150.8 L297.7 151.4 L296 159 L294.4 158.7"/>
<path class="w" d="M282.4 137.3 Q300 136.2 319 136.9 Q321.6 137.2 321.7 139.4 Q321.6 141.6 320 143.2 Q318 143.4 316 142.6 Q309 141.4 303.6 141 Q292 140.6 283 141.5 Q280.3 141.4 280.2 139.4 Q280.3 137.6 282.4 137.3 Z"/>
<path d="M281 139.8 Q300 138.6 321.2 140.4"/>
</g>
<line class="d" x1="279.3" y1="363.1" x2="354.2" y2="363.1"/><path class="a" d="M278.3 363.1 Q279.90000000000003 361.85 282.7 362.6 L282.7 363.6 Q279.90000000000003 364.35 278.3 363.1 Z"/><path class="a" d="M355.2 363.1 Q353.59999999999997 361.85 350.8 362.6 L350.8 363.6 Q353.59999999999997 364.35 355.2 363.1 Z"/><text x="321.2" y="360.3"><tspan>465 </tspan><tspan font-size="6.8" dy=".4">±</tspan><tspan dy="-.4"> 10</tspan></text>
<line class="d" x1="224.0" y1="319.3" x2="224.0" y2="494.6"/><path class="a" d="M224.0 318.3 Q222.75 319.90000000000003 223.5 322.7 L224.5 322.7 Q225.25 319.90000000000003 224.0 318.3 Z"/><path class="a" d="M224.0 495.6 Q222.75 494.0 223.5 491.20000000000005 L224.5 491.20000000000005 Q225.25 494.0 224.0 495.6 Z"/><text transform="translate(221.8,420) rotate(-90)" style="letter-spacing:0.52px"><tspan>925</tspan></text>
<line class="d" x1="367.5" y1="424.6" x2="367.5" y2="494.7"/><path class="a" d="M367.5 423.6 Q366.25 425.20000000000005 367.0 428.0 L368.0 428.0 Q368.75 425.20000000000005 367.5 423.6 Z"/><path class="a" d="M367.5 495.7 Q366.25 494.09999999999997 367.0 491.3 L368.0 491.3 Q368.75 494.09999999999997 367.5 495.7 Z"/><text transform="translate(365.8,460.5) rotate(-90)" style="letter-spacing:0.52px"><tspan>460</tspan></text>
</svg></body></html>
